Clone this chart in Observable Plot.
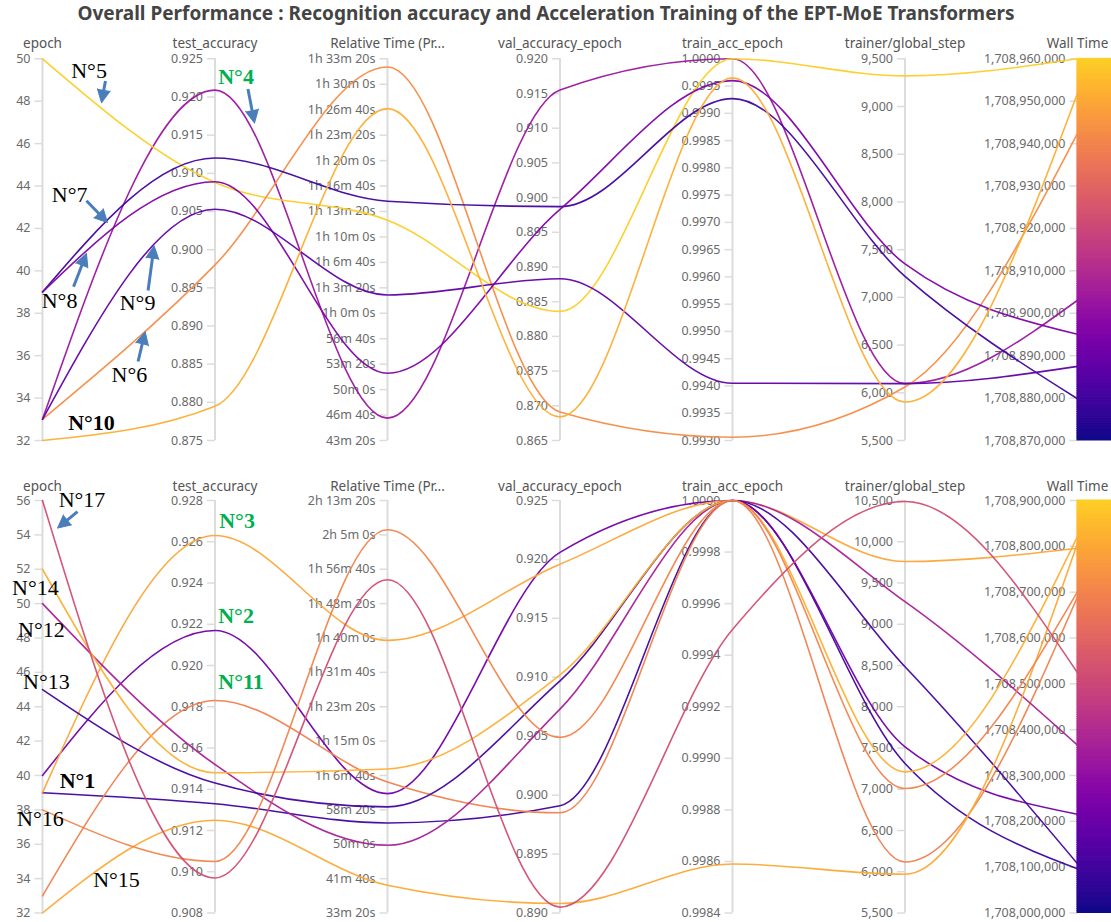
<!DOCTYPE html>
<html><head><meta charset="utf-8">
<script src="https://cdn.jsdelivr.net/npm/d3@7"></script>
<script src="https://cdn.jsdelivr.net/npm/@observablehq/plot@0.6"></script>
<style>
body{margin:0;background:#fff;width:1111px;overflow:hidden}
#title{height:28px;line-height:28px;font:bold 19px "Noto Sans",sans-serif;color:#444;text-align:center;width:1092px;white-space:nowrap}
svg{display:block}
</style></head><body>
<div id="title">Overall Performance : Recognition accuracy and Acceleration Training of the EPT-MoE Transformers</div>
<div id="top"></div><div id="bottom"></div>
<script>
// ---------- shared axis titles ----------
const axisTitles = ["epoch","test_accuracy","Relative Time (Pr...","val_accuracy_epoch","train_acc_epoch","trainer/global_step","Wall Time"];

// ---------- top panel data ----------
const topRuns       = ["N°4","N°5","N°6","N°7","N°8","N°9","N°10"];
const topEpoch      = [33, 50, 33, 39, 39, 33, 32];
const topTestAcc    = [0.9209, 0.9088, 0.8980, 0.9120, 0.9089, 0.9053, 0.8795];
const topRelTime    = [2776, 4332, 5535, 4481, 3129, 3744, 5208]; // seconds
const topValAcc     = [0.9155, 0.8836, 0.8691, 0.8987, 0.8983, 0.8883, 0.8684];
const topTrainAcc   = [1.0000, 1.0000, 0.99306, 0.99927, 0.99960, 0.99405, 0.99965];
const topGlobalStep = [6096, 9321, 6060, 7220, 7350, 6096, 5903];
const topWallTime   = [1708903070, 1708960000, 1708942440, 1708879840, 1708895040, 1708887480, 1708951890];
// axis [min, max, tick step]
const topAxes = [[32,50,2],[0.875,0.925,0.005],[2600,5600,200],[0.865,0.920,0.005],[0.9930,1.0000,0.0005],[5500,9500,500],[1708870000,1708960000,10000]];

// ---------- bottom panel data ----------
const botRuns       = ["N°1","N°2","N°3","N°11","N°12","N°13","N°14","N°15","N°16","N°17"];
const botEpoch      = [39, 40, 39, 33, 50, 45, 52, 32, 38, 56];
const botTestAcc    = [0.9133, 0.9217, 0.9263, 0.9183, 0.9152, 0.9143, 0.9148, 0.9125, 0.9105, 0.9097];
const botRelTime    = [3310, 3736, 5965, 3906, 2985, 3543, 4095, 2404, 7574, 6847];
const botValAcc     = [0.8991, 0.9206, 0.9196, 0.8985, 0.9073, 0.9097, 0.9102, 0.8908, 0.9049, 0.8905];
const botTrainAcc   = [1, 1, 1, 1, 1, 1, 1, 0.99859, 1, 0.9995];
const botGlobalStep = [7312, 7515, 9760, 6119, 9274, 8485, 7211, 5969, 7009, 10488];
const botWallTime   = [1708096650, 1708215370, 1708795850, 1708690000, 1708366130, 1708107570, 1708821340, 1708806800, 1708701170, 1708524180];
const botAxes = [[32,56,2],[0.908,0.928,0.002],[2000,8000,500],[0.890,0.925,0.005],[0.9984,1.0000,0.0002],[5500,10500,500],[1708000000,1708900000,100000]];

// ---------- annotations (x in axis units, y in normalised axis height) ----------
const topNotes = [
  {label:"N°5", ax:0.270, ny:0.967, kind:"plain"},
  {label:"N°4", ax:1.122, ny:0.952, kind:"green"},
  {label:"N°7", ax:0.157, ny:0.643, kind:"plain"},
  {label:"N°8", ax:0.099, ny:0.365, kind:"plain"},
  {label:"N°9", ax:0.551, ny:0.360, kind:"plain"},
  {label:"N°6", ax:0.504, ny:0.171, kind:"plain"},
  {label:"N°10", ax:0.284, ny:0.046, kind:"bold"}
];
const topArrows = [
  {ax1:0.365, ny1:0.942, ax2:0.342, ny2:0.885},
  {ax1:1.191, ny1:0.921, ax2:1.229, ny2:0.832},
  {ax1:0.255, ny1:0.628, ax2:0.377, ny2:0.571},
  {ax1:0.180, ny1:0.403, ax2:0.255, ny2:0.490},
  {ax1:0.612, ny1:0.393, ax2:0.647, ny2:0.510},
  {ax1:0.554, ny1:0.207, ax2:0.595, ny2:0.285}
];
const botNotes = [
  {label:"N°17", ax:0.229, ny:1.002, kind:"plain"},
  {label:"N°14", ax:-0.041, ny:0.788, kind:"plain"},
  {label:"N°12", ax:-0.006, ny:0.687, kind:"plain"},
  {label:"N°13", ax:0.023, ny:0.560, kind:"plain"},
  {label:"N°1", ax:0.203, ny:0.321, kind:"bold"},
  {label:"N°16", ax:-0.012, ny:0.227, kind:"plain"},
  {label:"N°15", ax:0.429, ny:0.079, kind:"plain"},
  {label:"N°3", ax:1.128, ny:0.950, kind:"green"},
  {label:"N°2", ax:1.122, ny:0.720, kind:"green"},
  {label:"N°11", ax:1.151, ny:0.560, kind:"green"}
];
const botArrows = [
  {ax1:0.203, ny1:0.973, ax2:0.087, ny2:0.933}
];

// ---------- helpers ----------
const fmtTime = s => {
  s = Math.round(s);
  const h = Math.floor(s/3600), m = Math.floor((s%3600)/60), sec = s%60;
  return h > 0 ? `${h}h ${m}m ${sec}s` : `${m}m ${sec}s`;
};
const fmts = [d3.format("d"), d3.format(".3f"), fmtTime, d3.format(".3f"), d3.format(".4f"), d3.format(","), d3.format(",")];
const X0 = 42, X6 = 1077, AX = (X6 - X0)/6;
const plasma = t => d3.interpolatePlasma(t * 0.9);

function panel({runs, cols, axes, height, yBottom, yTop, titleDy, notes, arrows}) {
  const H = yBottom - yTop;
  const wall = cols[6];
  const norm = (j, v) => (v - axes[j][0]) / (axes[j][1] - axes[j][0]);
  const lineData = [];
  runs.forEach((r, i) => cols.forEach((c, j) => lineData.push({run:r, axis:j, ny:norm(j, c[i]), wall:wall[i]})));
  const tickData = axes.flatMap(([lo, hi, step], j) => {
    const k = Math.round((hi - lo)/step);
    return d3.range(k + 1).map(i => { const v = lo + i*step; return {axis:j, ny:(v - lo)/(hi - lo), label:fmts[j](v)}; });
  });
  const wd = axes[6];
  const N = 200;
  const bar = d3.range(N).map(i => ({y1:i/N, y2:(i+1)/N, v: wd[0] + (i+0.5)/N*(wd[1]-wd[0])}));
  const arr = arrows.map(a => {
    const dx = (a.ax2 - a.ax1)*AX, dy = (a.ny2 - a.ny1)*H;
    const L = Math.hypot(dx, dy), s = dx/L, c = dy/L;
    return {...a, rot: Math.atan2(dx, dy)*180/Math.PI,
            bx: a.ax2 - 6*s/AX, by: a.ny2 - 6*c/H};
  });
  const tickLen = 8/AX;
  return Plot.plot({
    width: 1111, height, margin: 0,
    style: {fontFamily: "Noto Sans", fontSize: "12.5px", background: "white", overflow: "visible"},
    x: {type: "linear", domain: [0, 6], range: [X0, X6], axis: null},
    y: {type: "linear", domain: [0, 1], range: [yBottom, yTop], axis: null},
    color: {type: "linear", interpolate: plasma, domain: [wd[0], wd[1]]},
    marks: [
      Plot.ruleX([0,1,2,3,4,5], {y1: 0, y2: 1, stroke: "#dcdcdc", strokeWidth: 2}),
      Plot.link(tickData, {x1: d => d.axis - tickLen, x2: "axis", y1: "ny", y2: "ny", stroke: "#dcdcdc", strokeWidth: 1.5}),
      Plot.text(tickData, {x: "axis", y: "ny", text: "label", textAnchor: "end", dx: -12, fill: "#6a6a6a", fontSize: 12.5}),
      Plot.rect(bar, {x1: 6, x2: 6.2, y1: "y1", y2: "y2", fill: "v", stroke: "v", strokeWidth: 1}),
      Plot.line(lineData, {x: "axis", y: "ny", z: "run", stroke: "wall", curve: "monotone-x", strokeWidth: 1.6, strokeOpacity: 0.95}),
      Plot.text(axisTitles, {x: (d, i) => i, text: d => d, frameAnchor: "top", dy: titleDy, fill: "#555", fontSize: 13.5}),
      Plot.link(arr, {x1: "ax1", y1: "ny1", x2: "bx", y2: "by", stroke: "#4a7ebb", strokeWidth: 3}),
      Plot.vector(arr, {x: "ax2", y: "ny2", rotate: "rot", length: 13, r: 6.5, shape: "spike", anchor: "end", fill: "#4a7ebb", stroke: "#4a7ebb", strokeWidth: 1}),
      Plot.text(notes.filter(d => d.kind === "plain"), {x: "ax", y: "ny", text: "label", fontFamily: "Liberation Serif", fontSize: 22, fill: "#000"}),
      Plot.text(notes.filter(d => d.kind === "bold"), {x: "ax", y: "ny", text: "label", fontFamily: "Liberation Serif", fontSize: 22, fontWeight: "bold", fill: "#000"}),
      Plot.text(notes.filter(d => d.kind === "green"), {x: "ax", y: "ny", text: "label", fontFamily: "Liberation Serif", fontSize: 22, fontWeight: "bold", fill: "#00b050"})
    ]
  });
}

document.getElementById("top").append(panel({
  runs: topRuns,
  cols: [topEpoch, topTestAcc, topRelTime, topValAcc, topTrainAcc, topGlobalStep, topWallTime],
  axes: topAxes, height: 430, yBottom: 412, yTop: 30.3, titleDy: 10,
  notes: topNotes, arrows: topArrows
}));
document.getElementById("bottom").append(panel({
  runs: botRuns,
  cols: [botEpoch, botTestAcc, botRelTime, botValAcc, botTrainAcc, botGlobalStep, botWallTime],
  axes: botAxes, height: 464, yBottom: 454.5, yTop: 42, titleDy: 23,
  notes: botNotes, arrows: botArrows
}));
</script>
</body></html>
